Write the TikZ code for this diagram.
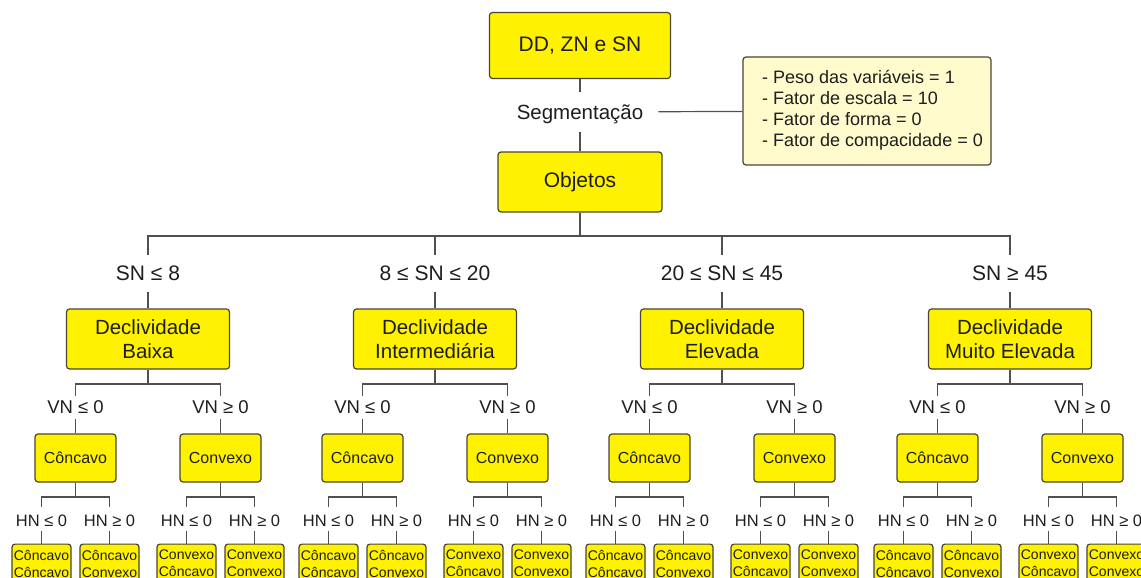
\documentclass[tikz,border=0pt]{standalone}
\usepackage{fontspec}
\setmainfont{Liberation Sans}
\definecolor{boxy}{RGB}{255,242,0}
\definecolor{boxline}{RGB}{72,70,50}
\definecolor{notefill}{RGB}{255,251,204}
\definecolor{wirecol}{RGB}{80,80,80}
\definecolor{inkcol}{RGB}{30,30,30}
\newcommand\mydown[2]{\raisebox{-#1}{#2}}
\begin{document}
\begin{tikzpicture}[x=1pt,y=-1pt,
  every node/.style={text=inkcol},
  ybox/.style={draw=boxline, fill=boxy, line width=1.2pt, rounded corners=3pt, inner sep=0pt, align=center},
  lab/.style={inner sep=0pt, text height=0.74em, text depth=0.2em},
  wire/.style={draw=wirecol, line width=1.2pt}]
\useasboundingbox (0,0) rectangle (1141,578);
\fill[white] (0,0) rectangle (1141,578);
\begin{scope}
\clip (0,0) rectangle (1141,578);
\node[ybox, minimum width=181pt, minimum height=66pt, font=\fontsize{21}{24}\selectfont] (top) at (580,45.5) {DD, ZN e SN};
\node[lab, minimum height=40pt, inner xsep=15pt, font=\fontsize{20.5}{24}\selectfont] (seg) at (580,112) {\mydown{5pt}{Segmentação}};
\node[draw=boxline, fill=notefill, line width=1.2pt, rounded corners=3pt, minimum width=248pt, minimum height=108pt, inner sep=0pt, font=\fontsize{18}{21}\selectfont] (note) at (867,111) {\begin{tabular}{@{\hspace{11pt}}l@{}}- Peso das variáveis = 1\\- Fator de escala = 10\\- Fator de forma = 0\\- Fator de compacidade = 0\end{tabular}};
\node[ybox, minimum width=164pt, minimum height=60pt, font=\fontsize{21}{24}\selectfont] (obj) at (580,182) {Objetos};
\draw[wire] (top) -- (seg);
\draw[wire] (seg) -- (obj);
\draw[wire] (seg) -- (note);
\coordinate (bar0) at (580,236);
\foreach \i/\cx/\lbl/\dec in {1/148/{SN ≤ 8}/{Declividade\\Baixa}, 2/435/{8 ≤ SN ≤ 20}/{Declividade\\Intermediária}, 3/722/{20 ≤ SN ≤ 45}/{Declividade\\Elevada}, 4/1010/{SN ≥ 45}/{Declividade\\Muito Elevada}} {
  \node[lab, minimum height=37pt, font=\fontsize{21}{24}\selectfont] (s\i) at (\cx,273.5) {\mydown{4pt}{\lbl}};
  \draw[wire] (obj.south) -- (obj.south |- bar0) -| (s\i.north);
  \node[ybox, minimum width=163pt, minimum height=60pt, font=\fontsize{20.5}{24}\selectfont] (d\i) at (\cx,339) {\dec};
  \draw[wire] (s\i) -- (d\i);
  \coordinate (bd\i) at (\cx,384);
  \foreach \j/\dx/\vl/\ml in {1/-72.5/{VN ≤ 0}/Côncavo, 2/72.5/{VN ≥ 0}/Convexo} {
    \pgfmathsetmacro{\vx}{\cx+\dx}
    \node[lab, minimum height=23pt, font=\fontsize{18.5}{22}\selectfont] (v\i\j) at (\vx,407.5) {\mydown{3pt}{\vl}};
    \draw[wire] (d\i.south) -- (d\i.south |- bd\i) -| (v\i\j.north);
    \node[ybox, minimum width=81pt, minimum height=48pt, font=\fontsize{16}{19}\selectfont] (m\i\j) at (\vx,458) {\ml};
    \draw[wire] (v\i\j) -- (m\i\j);
    \coordinate (bm\i\j) at (\vx,497);
    \foreach \k/\ex/\hl/\sl in {1/-34/{HN ≤ 0}/Côncavo, 2/34/{HN ≥ 0}/Convexo} {
      \pgfmathsetmacro{\hx}{\vx+\ex}
      \node[lab, minimum height=24pt, font=\fontsize{16.5}{19}\selectfont] (h\i\j\k) at (\hx,519) {\mydown{5pt}{\hl}};
      \draw[wire] (m\i\j.south) -- (m\i\j.south |- bm\i\j) -| (h\i\j\k.north);
      \node[ybox, anchor=north, minimum width=59pt, inner xsep=1pt, inner ysep=6pt, font=\fontsize{14}{17}\selectfont] (b\i\j\k) at (\hx,543.5) {\ml\\\sl};
      \draw[wire] (h\i\j\k) -- (b\i\j\k);
    }
  }
}
\end{scope}
\end{tikzpicture}
\end{document}
